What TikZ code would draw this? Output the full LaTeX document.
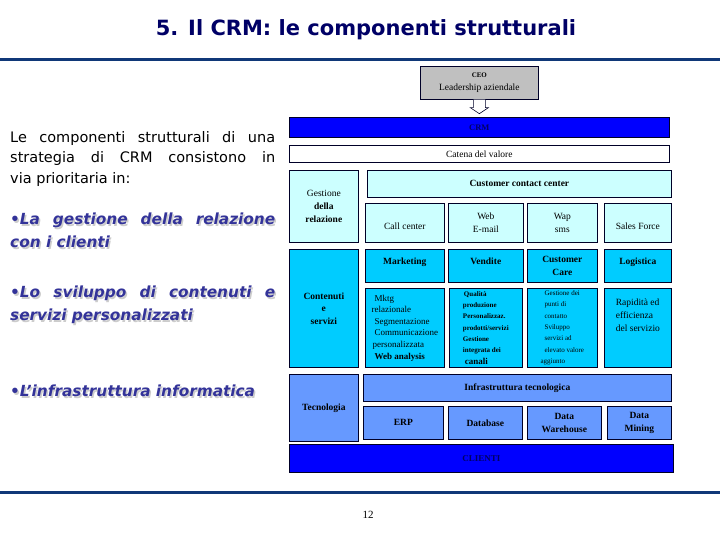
\documentclass[tikz,border=0pt]{standalone}
\usepackage{fontspec}
\setmainfont{Liberation Serif}
\setsansfont{DejaVu Sans}
\usepackage{tikz}
\usepackage{xcolor}
\definecolor{navyline}{RGB}{16,56,120}
\definecolor{titleblue}{RGB}{0,0,102}
\definecolor{bullblue}{RGB}{51,51,153}
\definecolor{ceogray}{RGB}{192,192,192}
\definecolor{crmblue}{RGB}{0,0,255}
\definecolor{palecyan}{RGB}{204,255,255}
\definecolor{brightcyan}{RGB}{0,204,255}
\definecolor{midblue}{RGB}{102,153,255}
\definecolor{boxedge}{RGB}{0,0,40}
\newcommand{\pxfont}[2]{\fontsize{#1}{#2}\selectfont}

\begin{document}
\begin{tikzpicture}[x=1pt,y=-1pt,line cap=round,
  box/.style={draw=boxedge,line width=0.7pt,anchor=north west,inner sep=1pt,align=center,font=\pxfont{9.5}{13}},
  bold/.style={font=\bfseries\pxfont{9.5}{12.5}},
  tiny/.style={align=left,font=\pxfont{7}{11.3}},
  lefttext/.style={anchor=north west,inner sep=0pt,text width=265pt,align=justify},
  bull/.style={lefttext,font=\sffamily\bfseries\itshape\pxfont{15.3}{23},text=bullblue},
  bullshadow/.style={lefttext,font=\sffamily\bfseries\itshape\pxfont{15.3}{23},text=black!20}]
\useasboundingbox[fill=white] (0,0) rectangle (720,540);
\draw[navyline,line width=3pt] (0,60) -- (720,60);
\draw[navyline,line width=3pt] (0,492) -- (720,492);
\node[font=\sffamily\bfseries\pxfont{21}{25},text=titleblue] (title) at (366,30) {5. Il CRM: le componenti strutturali};
\node[font=\pxfont{11}{12}] (pg) at (368,515) {12};

\node[lefttext,font=\sffamily\pxfont{14.5}{20.5}] (intro) at (10,131)
  {Le componenti strutturali di una\linebreak strategia di CRM consistono in\linebreak via prioritaria in:};
\node[bullshadow] at (11.5,214.5) {\textbullet La gestione della relazione\linebreak con i clienti};
\node[bull] (b1) at (10,213) {\textbullet La gestione della relazione\linebreak con i clienti};
\node[bullshadow] at (11.5,287.5) {\textbullet Lo sviluppo di contenuti e\linebreak servizi personalizzati};
\node[bull] (b2) at (10,286) {\textbullet Lo sviluppo di contenuti e\linebreak servizi personalizzati};
\node[bullshadow] at (11.5,386.5) {\textbullet L’infrastruttura informatica};
\node[bull] (b3) at (10,385) {\textbullet L’infrastruttura informatica};

\node[box,fill=ceogray,minimum width=118pt,minimum height=33pt] (ceo) at (420,66) {{\bfseries\pxfont{7}{9}CEO}\\Leadership aziendale};
\node[box,fill=crmblue,minimum width=380pt,minimum height=20pt,font=\bfseries\pxfont{8.5}{10},text=titleblue] (crm) at (289,117) {CRM};
\draw[boxedge,line width=0.6pt,fill=white] (ceo.south) ++(-6,0) -- ++(0,8) -- ++(-3,0) -- ++(9,6) -- ++(9,-6) -- ++(-3,0) -- ++(0,-8);
\node[box,fill=white,minimum width=380pt,minimum height=17pt] (catena) at (289,145) {Catena del valore};

\node[box,fill=palecyan,minimum width=69pt,minimum height=72pt] (gest) at (289,170) {Gestione\\\textbf{della}\\\textbf{relazione}};
\node[box,bold,fill=palecyan,minimum width=304pt,minimum height=27pt] (ccc) at (367,170) {Customer contact center};
\node[box,fill=palecyan,minimum width=79pt,minimum height=39pt] (call) at (365,203) {\mbox{}\\Call center};
\node[box,fill=palecyan,minimum width=75pt,minimum height=39pt] (web) at (448,203) {Web\\E-mail};
\node[box,fill=palecyan,minimum width=70pt,minimum height=39pt] (wap) at (527,203) {Wap\\sms};
\node[box,fill=palecyan,minimum width=67pt,minimum height=39pt] (sales) at (604,203) {\mbox{}\\Sales Force};

\node[box,bold,fill=brightcyan,minimum width=69pt,minimum height=118pt] (cont) at (289,249) {Contenuti\\e\\servizi};
\node[box,bold,fill=brightcyan,minimum width=79pt,minimum height=33pt] (mkt) at (365,249) {Marketing\\[-4pt]\mbox{}};
\node[box,bold,fill=brightcyan,minimum width=75pt,minimum height=33pt] (vend) at (448,249) {Vendite\\[-4pt]\mbox{}};
\node[box,bold,fill=brightcyan,minimum width=70pt,minimum height=33pt] (care) at (527,249) {Customer\\Care};
\node[box,bold,fill=brightcyan,minimum width=67pt,minimum height=33pt] (logi) at (604,249) {Logistica\\[-4pt]\mbox{}};
\node[box,fill=brightcyan,minimum width=79pt,minimum height=79pt,align=left,font=\pxfont{9}{11.6}] (mktg) at (365,288)
  {\hspace*{3pt}Mktg\\relazionale\\\hspace*{3pt}Segmentazione\\\hspace*{3pt}Communicazione\\\hspace*{1pt}personalizzata\\\hspace*{3pt}\textbf{Web analysis}};
\node[box,tiny,fill=brightcyan,minimum width=73pt,minimum height=79pt,font=\bfseries\pxfont{7}{11.3}] (qual) at (449,288)
  {\hspace*{1pt}Qualità\\produzione\\Personalizzaz.\\prodotti/servizi\\Gestione\\integrata dei\\\hspace*{2pt}{\pxfont{9}{11}canali}};
\node[box,tiny,fill=brightcyan,minimum width=70pt,minimum height=79pt] (punti) at (527,288)
  {\hspace*{4pt}Gestione dei\\\hspace*{4pt}punti di\\\hspace*{4pt}contatto\\\hspace*{4pt}Sviluppo\\\hspace*{4pt}servizi ad\\\hspace*{4pt}elevato valore\\aggiunto};
\node[box,fill=brightcyan,minimum width=67pt,minimum height=79pt,align=left] (rapid) at (604,288)
  {Rapidità ed\\efficienza\\del servizio\\\mbox{}\\\mbox{}};

\node[box,bold,fill=midblue,minimum width=69pt,minimum height=67pt] (tecn) at (289,374) {Tecnologia};
\node[box,bold,fill=midblue,minimum width=308pt,minimum height=27pt] (infra) at (363,374) {Infrastruttura tecnologica};
\node[box,bold,fill=midblue,minimum width=80pt,minimum height=33pt] (erp) at (363,406) {ERP};
\node[box,bold,fill=midblue,minimum width=74pt,minimum height=33pt] (db) at (448,406) {Database};
\node[box,bold,fill=midblue,minimum width=74pt,minimum height=33pt] (dw) at (527,406) {Data\\Warehouse};
\node[box,bold,fill=midblue,minimum width=64pt,minimum height=33pt] (dm) at (607,406) {Data\\Mining};
\node[box,fill=crmblue,minimum width=384pt,minimum height=28pt,font=\bfseries\pxfont{9}{10},text=titleblue] (clienti) at (289,444) {CLIENTI};
\end{tikzpicture}
\end{document}
